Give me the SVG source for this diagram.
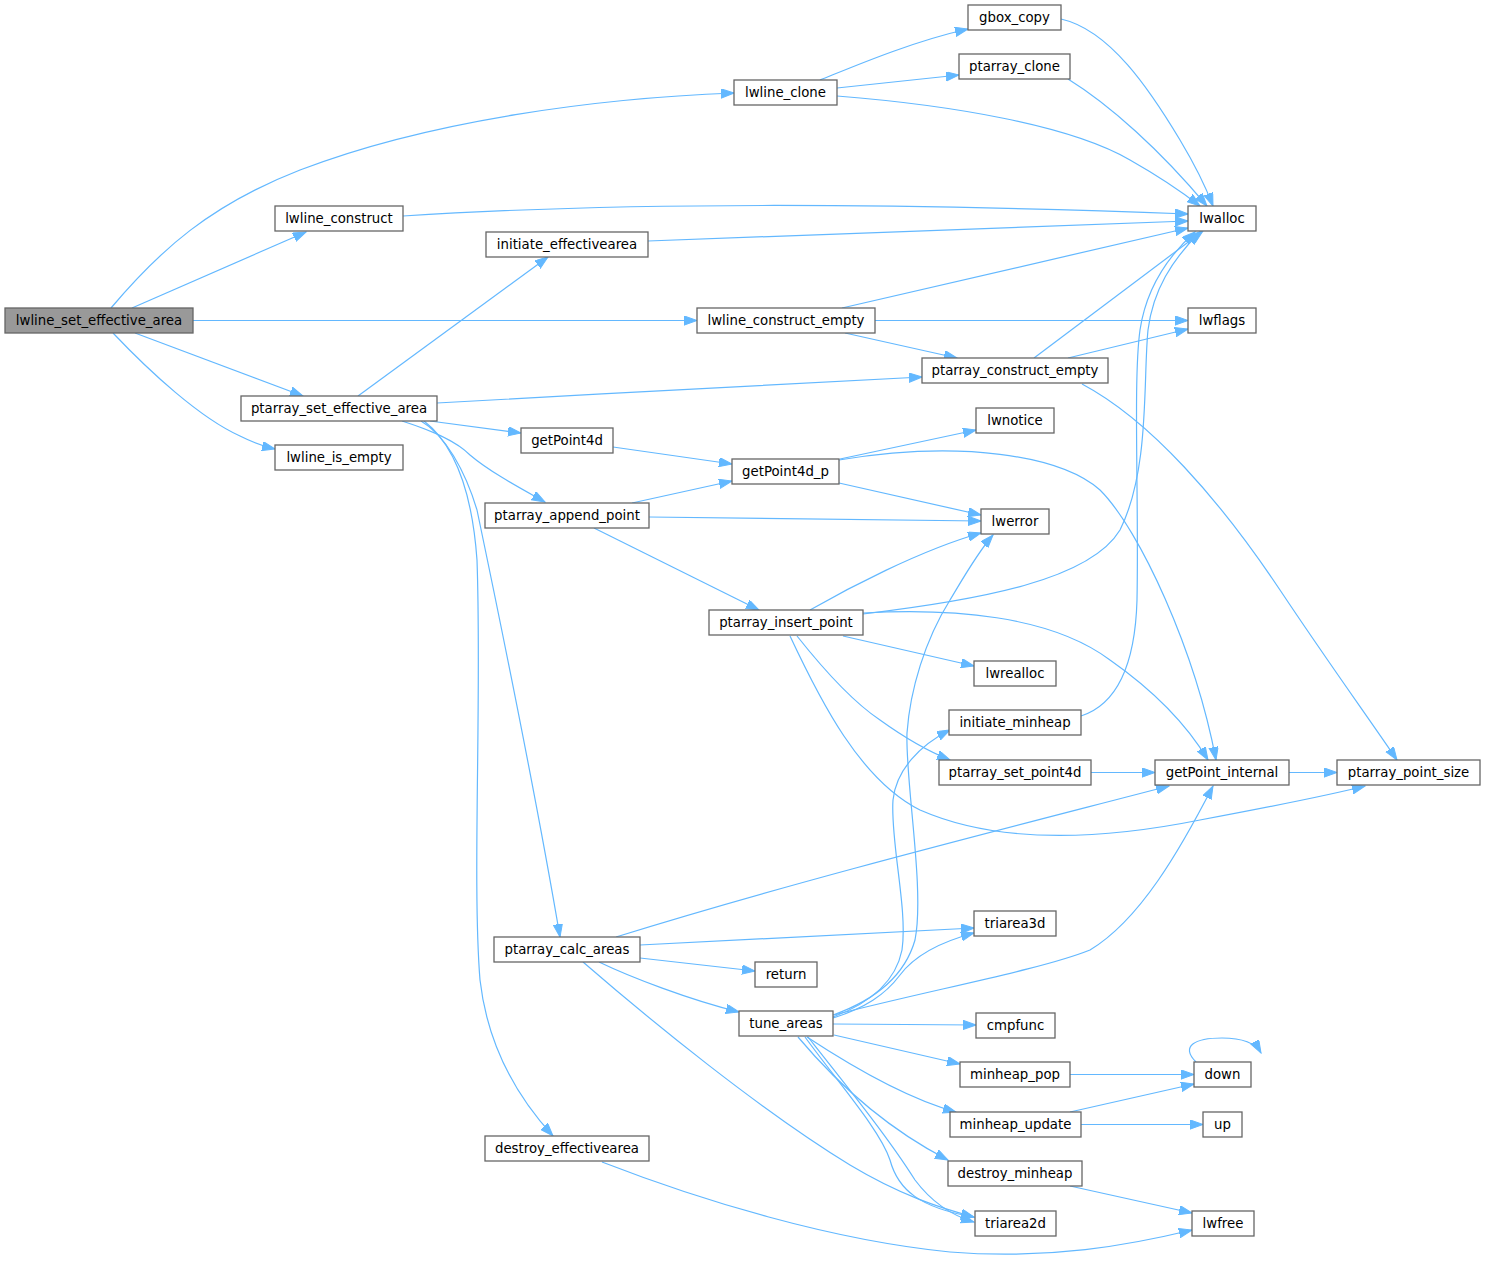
<svg xmlns="http://www.w3.org/2000/svg" width="1485" height="1262" viewBox="0 0 1485 1262">
<style>
.n rect{fill:#ffffff;stroke:#666666;stroke-width:1.3}
.n.root rect{fill:#999999}
.n text{font-family:"DejaVu Sans","Liberation Sans",sans-serif;font-size:13.3px;fill:#000000;text-anchor:middle}
#edges path{fill:none;stroke:#63b8ff;stroke-width:1.2;marker-end:url(#arr)}
</style>
<defs>
<marker id="arr" markerWidth="14" markerHeight="10" refX="13" refY="4.65" orient="auto" markerUnits="userSpaceOnUse">
<path d="M0,0 L13,4.65 L0,9.3 z" fill="#63b8ff" stroke="#63b8ff" stroke-width="1"/>
</marker>
</defs>
<rect x="0" y="0" width="1485" height="1262" fill="#ffffff"/>
<g id="edges">
<path d="M111,308 C160,250 210,205 300,170 C430,120 600,98 734,93"/>
<path d="M132,308 L306,232"/>
<path d="M193,320.5 L697,320.5"/>
<path d="M135,333 L303,396"/>
<path d="M113,333 C150,372 200,418 240,436 C252,442 262,446 275,449"/>
<path d="M820,80 C850,68 910,42 968,29"/>
<path d="M837,88 L959,75"/>
<path d="M837,96 C950,105 1070,125 1130,160 C1160,177 1182,192 1200,206"/>
<path d="M1061,19 C1110,30 1150,90 1180,140 C1195,165 1205,185 1213,206"/>
<path d="M1068,79 C1110,105 1160,150 1207,206"/>
<path d="M403,216 C650,200 950,205 1188,214"/>
<path d="M648,241 L1188,221"/>
<path d="M358,396 L548,257"/>
<path d="M842,308 L1188,228"/>
<path d="M875,320.5 L1188,320.5"/>
<path d="M845,333 L957,358"/>
<path d="M1034,358 L1203,231"/>
<path d="M1068,358 L1188,329"/>
<path d="M1082,384 C1150,420 1220,500 1280,590 C1330,665 1370,720 1397,760"/>
<path d="M437,403 C600,394 800,383 922,377"/>
<path d="M430,421 L521,433"/>
<path d="M402,421 C430,430 455,440 470,455 C490,472 520,488 545,502"/>
<path d="M421,421 C445,435 465,470 477,510 C500,620 535,790 560,937"/>
<path d="M424,421 C455,445 472,490 477,560 C482,700 472,880 480,980 C488,1050 520,1100 553,1136"/>
<path d="M613,447 L732,464"/>
<path d="M632,503 L732,481"/>
<path d="M649,517 L981,521"/>
<path d="M594,528 L759,610"/>
<path d="M840,459 L976,430"/>
<path d="M839,460 C960,440 1060,455 1100,490 C1140,530 1195,650 1216,760"/>
<path d="M839,483 L981,515"/>
<path d="M810,610 C845,590 920,550 981,533"/>
<path d="M863,614 C980,600 1090,580 1120,530 C1150,470 1143,380 1148,330 C1153,290 1172,260 1200,232"/>
<path d="M843,636 L974,666"/>
<path d="M863,613 C950,608 1050,615 1110,660 C1160,695 1190,730 1208,760"/>
<path d="M797,636 C820,665 850,700 880,720 C905,738 925,750 950,760"/>
<path d="M790,636 C820,700 860,780 920,810 C1000,845 1100,840 1200,820 C1280,805 1330,795 1365,786"/>
<path d="M1289,772.5 L1337,772.5"/>
<path d="M1091,772.5 L1155,772.5"/>
<path d="M1081,716 C1115,705 1135,670 1137,600 C1139,500 1133,380 1140,330 C1146,290 1166,258 1195,232"/>
<path d="M616,937 C800,880 1000,830 1169,786"/>
<path d="M640,945 L974,928"/>
<path d="M640,958 L755,971"/>
<path d="M599,962 C630,977 690,1000 739,1012"/>
<path d="M583,962 C650,1020 760,1110 850,1165 C900,1195 940,1208 974,1217"/>
<path d="M833,1018 C865,1008 885,995 900,975 C915,955 940,942 974,933"/>
<path d="M834,1015 C930,990 1040,970 1090,950 C1140,920 1180,850 1213,786"/>
<path d="M833,1017 C865,1005 895,985 902,950 C908,910 890,840 893,800 C896,770 920,745 950,730"/>
<path d="M833,1015 C875,1000 905,975 915,940 C925,890 905,780 907,733 C910,690 925,640 950,600 C965,575 978,552 993,535"/>
<path d="M833,1024 L976,1025"/>
<path d="M834,1035 L960,1064"/>
<path d="M807,1037 C845,1062 905,1098 956,1112"/>
<path d="M798,1037 C830,1075 880,1125 948,1160"/>
<path d="M805,1037 C840,1085 880,1130 890,1160 C898,1190 920,1208 974,1217"/>
<path d="M808,1037 C850,1090 890,1140 915,1180 C930,1200 950,1215 974,1222"/>
<path d="M1070,1074.5 L1194,1074.5"/>
<path d="M1070,1112 L1194,1084"/>
<path d="M1081,1124.5 L1203,1124.5"/>
<path d="M1196,1062 C1180,1046 1195,1038 1222,1038 C1245,1038 1256,1044 1261,1053"/>
<path d="M1070,1186 L1192,1213"/>
<path d="M602,1162 C700,1200 830,1240 950,1252 C1050,1260 1130,1245 1192,1230"/>
</g>
<g id="node-lwline_set_effective_area" class="n root"><rect x="5" y="308" width="188" height="25"/><text x="99" y="325">lwline_set_effective_area</text></g>
<g id="node-lwline_clone" class="n"><rect x="734" y="80" width="103" height="25"/><text x="785.5" y="97">lwline_clone</text></g>
<g id="node-gbox_copy" class="n"><rect x="968" y="5" width="93" height="25"/><text x="1014.5" y="22">gbox_copy</text></g>
<g id="node-ptarray_clone" class="n"><rect x="959" y="54" width="111" height="25"/><text x="1014.5" y="71">ptarray_clone</text></g>
<g id="node-lwline_construct" class="n"><rect x="275" y="206" width="128" height="25"/><text x="339" y="223">lwline_construct</text></g>
<g id="node-initiate_effectivearea" class="n"><rect x="486" y="232" width="162" height="25"/><text x="567" y="249">initiate_effectivearea</text></g>
<g id="node-lwalloc" class="n"><rect x="1188" y="206" width="68" height="25"/><text x="1222" y="223">lwalloc</text></g>
<g id="node-lwflags" class="n"><rect x="1188" y="308" width="68" height="25"/><text x="1222" y="325">lwflags</text></g>
<g id="node-lwline_construct_empty" class="n"><rect x="697" y="308" width="178" height="25"/><text x="786" y="325">lwline_construct_empty</text></g>
<g id="node-ptarray_construct_empty" class="n"><rect x="922" y="358" width="186" height="25"/><text x="1015" y="375">ptarray_construct_empty</text></g>
<g id="node-ptarray_set_effective_area" class="n"><rect x="241" y="396" width="196" height="25"/><text x="339" y="413">ptarray_set_effective_area</text></g>
<g id="node-lwline_is_empty" class="n"><rect x="275" y="445" width="128" height="25"/><text x="339" y="462">lwline_is_empty</text></g>
<g id="node-getPoint4d" class="n"><rect x="521" y="428" width="92" height="25"/><text x="567" y="445">getPoint4d</text></g>
<g id="node-getPoint4d_p" class="n"><rect x="732" y="459" width="107" height="25"/><text x="785.5" y="476">getPoint4d_p</text></g>
<g id="node-lwnotice" class="n"><rect x="976" y="408" width="78" height="25"/><text x="1015" y="425">lwnotice</text></g>
<g id="node-lwerror" class="n"><rect x="981" y="509" width="68" height="25"/><text x="1015" y="526">lwerror</text></g>
<g id="node-ptarray_append_point" class="n"><rect x="485" y="503" width="164" height="25"/><text x="567" y="520">ptarray_append_point</text></g>
<g id="node-ptarray_insert_point" class="n"><rect x="709" y="610" width="154" height="25"/><text x="786" y="627">ptarray_insert_point</text></g>
<g id="node-lwrealloc" class="n"><rect x="974" y="661" width="82" height="25"/><text x="1015" y="678">lwrealloc</text></g>
<g id="node-initiate_minheap" class="n"><rect x="949" y="710" width="132" height="25"/><text x="1015" y="727">initiate_minheap</text></g>
<g id="node-ptarray_set_point4d" class="n"><rect x="939" y="760" width="152" height="25"/><text x="1015" y="777">ptarray_set_point4d</text></g>
<g id="node-getPoint_internal" class="n"><rect x="1155" y="760" width="134" height="25"/><text x="1222" y="777">getPoint_internal</text></g>
<g id="node-ptarray_point_size" class="n"><rect x="1337" y="760" width="143" height="25"/><text x="1408.5" y="777">ptarray_point_size</text></g>
<g id="node-triarea3d" class="n"><rect x="974" y="911" width="82" height="25"/><text x="1015" y="928">triarea3d</text></g>
<g id="node-ptarray_calc_areas" class="n"><rect x="494" y="937" width="146" height="25"/><text x="567" y="954">ptarray_calc_areas</text></g>
<g id="node-return" class="n"><rect x="755" y="962" width="62" height="25"/><text x="786" y="979">return</text></g>
<g id="node-tune_areas" class="n"><rect x="739" y="1011" width="94" height="25"/><text x="786" y="1028">tune_areas</text></g>
<g id="node-cmpfunc" class="n"><rect x="976" y="1013" width="79" height="25"/><text x="1015.5" y="1030">cmpfunc</text></g>
<g id="node-minheap_pop" class="n"><rect x="960" y="1062" width="110" height="25"/><text x="1015" y="1079">minheap_pop</text></g>
<g id="node-down" class="n"><rect x="1194" y="1062" width="57" height="25"/><text x="1222.5" y="1079">down</text></g>
<g id="node-minheap_update" class="n"><rect x="950" y="1112" width="131" height="25"/><text x="1015.5" y="1129">minheap_update</text></g>
<g id="node-up" class="n"><rect x="1203" y="1112" width="39" height="25"/><text x="1222.5" y="1129">up</text></g>
<g id="node-destroy_effectivearea" class="n"><rect x="485" y="1136" width="164" height="25"/><text x="567" y="1153">destroy_effectivearea</text></g>
<g id="node-destroy_minheap" class="n"><rect x="948" y="1161" width="134" height="25"/><text x="1015" y="1178">destroy_minheap</text></g>
<g id="node-triarea2d" class="n"><rect x="975" y="1211" width="81" height="25"/><text x="1015.5" y="1228">triarea2d</text></g>
<g id="node-lwfree" class="n"><rect x="1192" y="1211" width="62" height="25"/><text x="1223" y="1228">lwfree</text></g>
</svg>
